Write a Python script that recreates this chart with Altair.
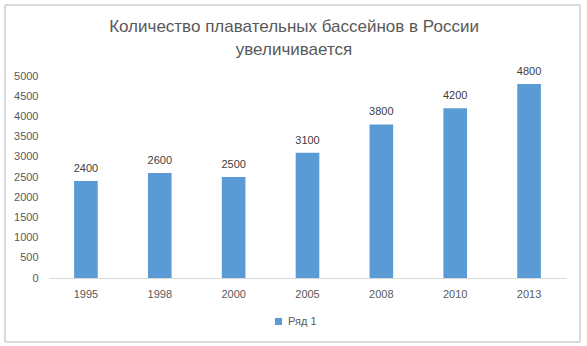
import altair as alt
import pandas as pd

years = ["1995", "1998", "2000", "2005", "2008", "2010", "2013"]
values = [2400, 2600, 2500, 3100, 3800, 4200, 4800]
series_name = ["Ряд 1"] * len(years)
y_ticks = list(range(0, 5001, 500))
title_lines = ["Количество плавательных бассейнов в России", "увеличивается"]

df = pd.DataFrame({"year": years, "value": values, "series": series_name})

FONT = "Liberation Sans"
W, H = 517, 202

x_enc = alt.X("year:N", sort=years, title=None,
              scale=alt.Scale(paddingInner=0.68, paddingOuter=0.34),
              axis=alt.Axis(labelAngle=0, ticks=False, domainColor="#D9D9D9",
                            labelColor="#595959", labelFont=FONT, labelFontSize=11,
                            labelPadding=10))
y_enc = alt.Y("value:Q", title=None,
              scale=alt.Scale(domain=[0, 5000]),
              axis=alt.Axis(values=y_ticks, format="d", grid=False, ticks=False, domain=False,
                            labelOverlap=False,
                            labelColor="#595959", labelFont=FONT, labelFontSize=11,
                            labelPadding=11))

base = alt.Chart(df)

bars = base.mark_bar(color="#5B9BD5").encode(
    x=x_enc,
    y=y_enc,
    color=alt.Color("series:N", scale=alt.Scale(range=["#5B9BD5"]),
                    legend=alt.Legend(title=None, orient="none", legendX=224, legendY=240,
                                      symbolType="square", symbolSize=50,
                                      symbolStrokeWidth=0,
                                      labelFont=FONT, labelFontSize=11,
                                      labelColor="#595959")),
)

labels = base.mark_text(baseline="bottom", dy=-7, font=FONT, fontSize=11,
                        color="#404040").encode(
    x=x_enc,
    y=y_enc,
    text="value:Q",
)

border = base.mark_rect(fill=None, stroke="#D9D9D9", strokeWidth=1).encode(
    x=alt.value(-44), x2=alt.value(531), y=alt.value(-71), y2=alt.value(266)
)

title1 = alt.Chart(pd.DataFrame({"t": [title_lines[0]]})).mark_text(
    font=FONT, fontSize=17, color="#595959", baseline="middle", align="center"
).encode(text="t:N", x=alt.value(245), y=alt.value(-49))

title2 = alt.Chart(pd.DataFrame({"t": [title_lines[1]]})).mark_text(
    font=FONT, fontSize=17, color="#595959", baseline="middle", align="center"
).encode(text="t:N", x=alt.value(245), y=alt.value(-26))

chart = alt.layer(border, bars, labels, title1, title2).properties(
    width=W, height=H,
    autosize=alt.AutoSizeParams(type="none"),
    padding={"left": 49, "top": 76, "right": 21, "bottom": 68},
    background="white",
).configure_view(stroke=None)

chart.save("out.html", embed_options={"renderer": "svg", "actions": False})
